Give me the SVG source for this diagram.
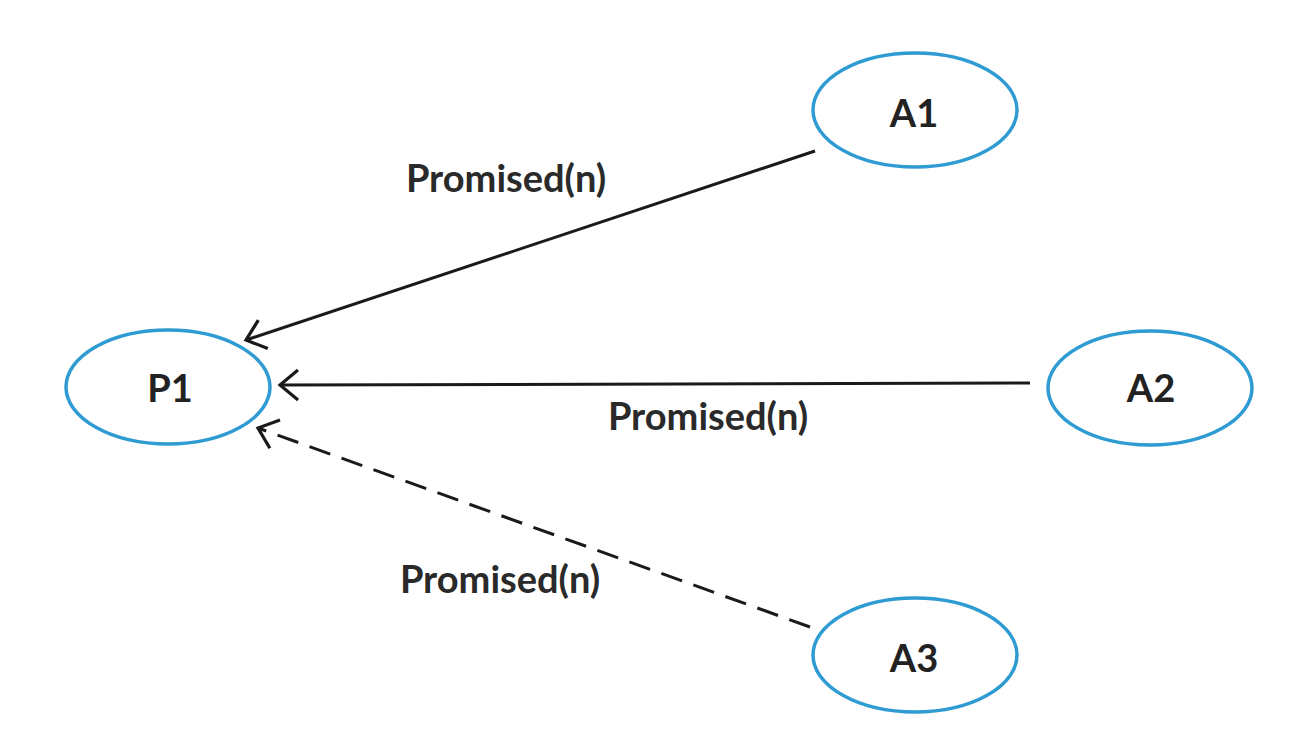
<svg xmlns="http://www.w3.org/2000/svg" width="1292" height="750" viewBox="0 0 1292 750">
<style>
.node{fill:#fff;stroke:#2f9bd3;stroke-width:3.5}
.lbl{font-family:Lato,"Liberation Sans",sans-serif;font-weight:bold;font-size:38px;fill:#222;text-anchor:middle}
.edge{stroke:#1a1a1a;stroke-width:3;fill:none}
.elbl{font-family:Lato,"Liberation Sans",sans-serif;font-weight:bold;font-size:38px;fill:#2a2a2a;text-anchor:middle}
</style>
<defs>
<marker id="arr" viewBox="0 0 30 30" refX="28" refY="15" markerWidth="30" markerHeight="30" markerUnits="userSpaceOnUse" orient="auto" overflow="visible">
<path d="M10,0 L28,15 L10,30" fill="none" stroke="#1a1a1a" stroke-width="3.2"/>
</marker>
</defs>
<rect width="1292" height="750" fill="#fff"/>
<g id="connectors">
<line class="edge" x1="815" y1="151" x2="246" y2="340" marker-end="url(#arr)"/>
<line class="edge" x1="1030" y1="383" x2="280" y2="385" marker-end="url(#arr)"/>
<line class="edge" x1="810" y1="627" x2="258" y2="428" stroke-dasharray="22,12" marker-end="url(#arr)"/>
<text class="elbl" x="506" y="192">Promised(n)</text>
<text class="elbl" x="708" y="430">Promised(n)</text>
<text class="elbl" x="500" y="593">Promised(n)</text>
</g>
<g id="P1"><ellipse class="node" cx="168" cy="387" rx="102" ry="57"/><text class="lbl" x="170" y="402">P1</text></g>
<g id="A1"><ellipse class="node" cx="915" cy="110" rx="102" ry="57"/><text class="lbl" x="914" y="127">A1</text></g>
<g id="A2"><ellipse class="node" cx="1150" cy="388" rx="102" ry="57"/><text class="lbl" x="1151" y="402">A2</text></g>
<g id="A3"><ellipse class="node" cx="915" cy="655" rx="102" ry="57"/><text class="lbl" x="914" y="672">A3</text></g>
</svg>
